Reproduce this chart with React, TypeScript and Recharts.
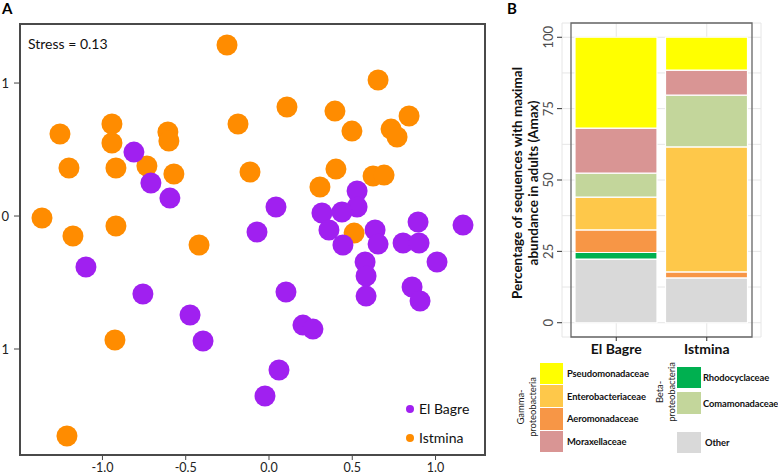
import {
  ScatterChart,
  Scatter,
  XAxis,
  YAxis,
  ReferenceArea,
  Legend,
  BarChart,
  Bar,
  CartesianGrid,
} from "recharts";

// NMDS points, [axis 1, axis 2]
const elBagre = [
  [-0.811, 0.481], [-0.709, 0.248], [-0.595, 0.135], [0.042, 0.068],
  [-0.072, -0.12], [-1.099, -0.383], [-0.757, -0.586], [-0.474, -0.744],
  [-0.396, -0.94], [0.529, 0.188], [0.529, 0.068], [0.318, 0.023],
  [0.438, 0.03], [0.36, -0.105], [0.637, -0.105], [0.895, -0.045],
  [1.165, -0.068], [0.805, -0.203], [0.901, -0.203], [0.444, -0.218],
  [0.655, -0.211], [0.577, -0.346], [0.583, -0.451], [0.583, -0.602],
  [1.009, -0.346], [0.859, -0.534], [0.907, -0.639], [0.102, -0.571],
  [0.204, -0.82], [0.264, -0.85], [0.06, -1.158], [-0.024, -1.353],
];

const istmina = [
  [-0.252, 1.286], [-1.255, 0.617], [-0.943, 0.692], [-0.943, 0.549],
  [-0.607, 0.632], [-0.601, 0.564], [-0.186, 0.692], [-1.201, 0.361],
  [-0.919, 0.361], [-0.733, 0.376], [-0.571, 0.316], [-0.114, 0.331],
  [-1.363, -0.015], [-0.919, -0.075], [-1.177, -0.15], [-0.42, -0.218],
  [-0.925, -0.932], [-1.213, -1.654], [0.655, 1.023], [0.108, 0.82],
  [0.396, 0.789], [0.498, 0.639], [0.841, 0.752], [0.733, 0.654],
  [0.769, 0.594], [0.402, 0.353], [0.306, 0.218], [0.625, 0.301],
  [0.691, 0.308], [0.511, -0.128],
];

const xTicks = [-1, -0.5, 0, 0.5, 1];
const yTicks = [-1, 0, 1];

// panel B
const sites = ["El Bagre", "Istmina"];
const families = [
  "Other",
  "Rhodocyclaceae",
  "Aeromonadaceae",
  "Enterobacteriaceae",
  "Comamonadaceae",
  "Moraxellaceae",
  "Pseudomonadaceae",
];
const elBagrePct = [22.3, 2.3, 7.9, 11.5, 8.4, 15.8, 31.8];
const istminaPct = [15.7, 0, 2.1, 43.8, 18.1, 8.8, 11.5];
const pctTicks = [0, 12.5, 25, 37.5, 50, 62.5, 75, 87.5, 100];

const famColors = {
  Pseudomonadaceae: "#ffff00",
  Enterobacteriaceae: "#fec84a",
  Aeromonadaceae: "#f79646",
  Moraxellaceae: "#d99594",
  Rhodocyclaceae: "#00b050",
  Comamonadaceae: "#c3d69b",
  Other: "#d9d9d9",
};

const gamma = ["Pseudomonadaceae", "Enterobacteriaceae", "Aeromonadaceae", "Moraxellaceae"];
const beta = ["Rhodocyclaceae", "Comamonadaceae"];

const siteColors = { "El Bagre": "#a020f0", Istmina: "#ff8c00" };

const toPts = (arr) => arr.map(([x, y]) => ({ x, y }));

const barRows = sites.map((site, i) => {
  const vals = i === 0 ? elBagrePct : istminaPct;
  const row = { site };
  families.forEach((f, j) => (row[f] = vals[j]));
  return row;
});

const font = "Lato, 'Open Sans', sans-serif";

const dotShape = (color) => (p) => <circle cx={p.cx} cy={p.cy} r={10.5} fill={color} />;

const PctTick = (props) => {
  const { x, y, payload } = props;
  if (payload.value % 25 !== 0) return null;
  return (
    <g>
      <line x1={x + 3} x2={x + 8} y1={y} y2={y} stroke="#333" />
      <text
        x={x - 6}
        y={y}
        transform={`rotate(-90, ${x - 6}, ${y})`}
        textAnchor="middle"
        dominantBaseline="central"
        fontSize={13}
        fill="#4d4d4d"
      >
        {payload.value}
      </text>
    </g>
  );
};

const SiteLegend = () => (
  <div style={{ fontSize: 14, color: "#111" }}>
    {sites.map((s) => (
      <div key={s} style={{ display: "flex", alignItems: "center", height: 29 }}>
        <span
          style={{
            width: 8,
            height: 8,
            borderRadius: 4,
            background: siteColors[s],
            marginRight: 5,
          }}
        />
        {s}
      </div>
    ))}
  </div>
);

const Swatch = ({ name, w, h, mb, gap }) => (
  <div style={{ display: "flex", alignItems: "center", marginBottom: mb }}>
    <div style={{ width: w, height: h, background: famColors[name], flexShrink: 0 }} />
    <span style={{ marginLeft: gap, whiteSpace: "nowrap" }}>{name}</span>
  </div>
);

const GroupLabel = ({ lines, cx, cy }) => (
  <div
    style={{
      position: "absolute",
      left: cx - 50,
      top: cy - 12,
      width: 100,
      height: 24,
      transform: "rotate(-90deg)",
      textAlign: "center",
      fontSize: 9.5,
      lineHeight: "12px",
      fontWeight: 400,
      color: "#222",
    }}
  >
    {lines.map((l) => (
      <div key={l}>{l}</div>
    ))}
  </div>
);

const FamilyLegend = () => (
  <div
    style={{
      position: "relative",
      width: 278,
      height: 120,
      fontSize: 9.4,
      letterSpacing: -0.1,
      fontWeight: 700,
      color: "#111",
    }}
  >
    <GroupLabel lines={["Gamma-", "proteobacteria"]} cx={27} cy={52} />
    <div style={{ position: "absolute", left: 40, top: 7.5 }}>
      {gamma.map((g) => (
        <Swatch key={g} name={g} w={23} h={21.8} mb={0.9} gap={4} />
      ))}
    </div>
    <GroupLabel lines={["Beta-", "proteobacteria"]} cx={166} cy={37} />
    <div style={{ position: "absolute", left: 177, top: 11.5 }}>
      {beta.map((g) => (
        <Swatch key={g} name={g} w={24} h={21.7} mb={4} gap={2} />
      ))}
    </div>
    <div style={{ position: "absolute", left: 177, top: 76.7 }}>
      <Swatch name="Other" w={24} h={21} mb={0} gap={4} />
    </div>
  </div>
);

export default function App() {
  return (
    <div
      style={{
        position: "absolute",
        left: 0,
        top: 0,
        width: 778,
        height: 474,
        background: "#fff",
        fontFamily: font,
      }}
    >
      <div style={{ position: "absolute", left: 2, top: 1, fontSize: 15, lineHeight: "15px", fontWeight: 700 }}>A</div>
      <div style={{ position: "absolute", left: 507, top: 1, fontSize: 15, lineHeight: "15px", fontWeight: 700 }}>B</div>

      <div style={{ position: "absolute", left: 0, top: 0, width: 500, height: 474 }}>
        <ScatterChart width={500} height={474} margin={{ top: 24, right: 15, bottom: 0, left: 0 }}>
          <XAxis
            type="number"
            dataKey="x"
            domain={[-1.495, 1.297]}
            ticks={xTicks}
            tickFormatter={(v) => v.toFixed(1)}
            height={19}
            tickSize={5}
            tickMargin={3}
            axisLine={{ stroke: "#444", strokeWidth: 2 }}
            stroke="#444"
            tick={{ fill: "#222", fontSize: 12.5 }}
            allowDataOverflow
          />
          <YAxis
            type="number"
            dataKey="y"
            domain={[-1.797, 1.444]}
            ticks={yTicks}
            tickFormatter={(v) => String(Math.abs(v))}
            width={20}
            tickSize={6}
            tickMargin={5}
            axisLine={{ stroke: "#444", strokeWidth: 2 }}
            stroke="#444"
            tick={{ fill: "#222", fontSize: 13 }}
            allowDataOverflow
          />
          <Scatter
            name="Istmina"
            data={toPts(istmina)}
            fill={siteColors.Istmina}
            shape={dotShape(siteColors.Istmina)}
            isAnimationActive={false}
          />
          <Scatter
            name="El Bagre"
            data={toPts(elBagre)}
            fill={siteColors["El Bagre"]}
            shape={dotShape(siteColors["El Bagre"])}
            isAnimationActive={false}
          />
          <Legend
            layout="vertical"
            align="center"
            verticalAlign="middle"
            content={() => <SiteLegend />}
            wrapperStyle={{ left: 406, top: 394, width: 80 }}
          />
        </ScatterChart>
        {/* panel frame */}
        <div
          style={{
            position: "absolute",
            left: 19,
            top: 23,
            width: 467,
            height: 433,
            borderStyle: "solid",
            borderWidth: 2,
            borderColor: "#4a4a4a",
            boxSizing: "border-box",
            pointerEvents: "none",
            zIndex: 5,
          }}
        />
        <div style={{ position: "absolute", left: 28, top: 35, fontSize: 14, color: "#111" }}>
          Stress = 0.13
        </div>
      </div>

      <div style={{ position: "absolute", left: 500, top: 0 }}>
        <BarChart
          width={278}
          height={474}
          data={barRows}
          margin={{ top: 23, right: 17, bottom: 107, left: 42 }}
          barSize={82}
        >
          <CartesianGrid stroke="#e6e6e6" />
          <XAxis
            dataKey="site"
            padding={{ left: 9, right: 9 }}
            height={30}
            tickSize={4}
            tickMargin={3}
            axisLine={false}
            stroke="#333"
            tick={{ fill: "#111", fontSize: 14, fontWeight: 700 }}
          />
          <YAxis
            type="number"
            domain={[-5, 105]}
            ticks={pctTicks}
            width={20}
            tickSize={5}
            tickMargin={3}
            tickLine={false}
            axisLine={false}
            tick={<PctTick />}
            allowDataOverflow
          />
          {families.map((f) => (
            <Bar
              key={f}
              dataKey={f}
              stackId="a"
              fill={famColors[f]}
              stroke="#fff"
              strokeWidth={1.2}
              isAnimationActive={false}
            />
          ))}
          <ReferenceArea y1={-5} y2={105} fill="none" fillOpacity={0} stroke="#666" strokeWidth={1.3} />
          <Legend
            layout="vertical"
            align="center"
            verticalAlign="middle"
            content={() => <FamilyLegend />}
            wrapperStyle={{ left: 0, top: 355, width: 278 }}
          />
        </BarChart>
      </div>

      <div
        style={{
          position: "absolute",
          left: 525 - 150,
          top: 183 - 16,
          width: 300,
          height: 32,
          transform: "rotate(-90deg)",
          textAlign: "center",
          fontSize: 13.5,
          fontWeight: 700,
          lineHeight: "16px",
          color: "#111",
        }}
      >
        <div>Percentage of sequences with maximal</div>
        <div>abundance in adults (Amax)</div>
      </div>
    </div>
  );
}
